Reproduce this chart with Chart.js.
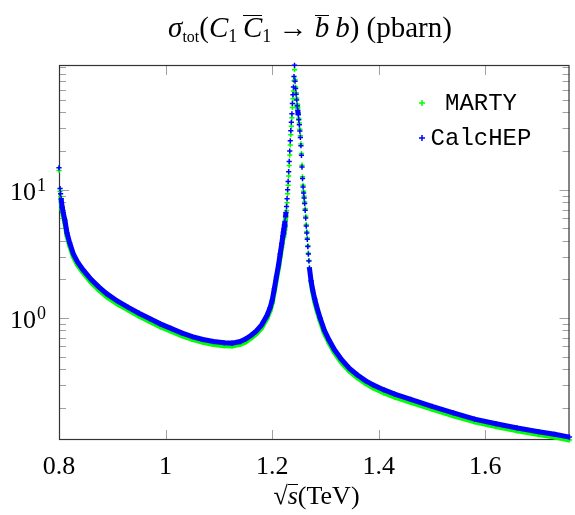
<!DOCTYPE html>
<html>
<head>
<meta charset="utf-8">
<script src="https://cdn.jsdelivr.net/npm/chart.js@4.4.1/dist/chart.umd.min.js"></script>
<style>
  body { margin: 0; background: #fff; }
  #wrap { position: relative; width: 575px; height: 515px; }
  #plot { position: absolute; left: 0; top: 0; }
  .math { position: absolute; font-family: "Liberation Serif", "DejaVu Serif", serif; font-size: 26px; color: #000; text-align: center; white-space: nowrap; line-height: 30px; }
  .math sub { font-size: 0.62em; vertical-align: -0.28em; line-height: 0; }
  .math sub.rm { font-size: 0.55em; vertical-align: -0.3em; }
  .bar { display: inline-block; border-top: 1.5px solid #000; line-height: 0.74em; padding-top: 1px; }
  #title { left: 40px; top: 12px; width: 540px; font-size: 29px; }
  #xlabel { left: 59px; top: 481px; width: 515px; }
</style>
</head>
<body>
<div id="wrap">
  <canvas id="plot" width="575" height="515"></canvas>
  <div id="title" class="math"><i>σ</i><sub class="rm">tot</sub>(<i>C</i><sub>1</sub>&thinsp;<span class="bar"><i>C</i></span><sub>1</sub> → <span class="bar"><i>b</i></span>&thinsp;<i>b</i>) (pbarn)</div>
  <div id="xlabel" class="math">√<span class="bar"><i>s</i></span>(TeV)</div>
</div>
<script>
// centre-of-mass energy sqrt(s) in TeV
var sqrtS = [0.800,0.802,0.803,0.804,0.806,0.808,0.811,0.815,0.820,0.827,
  0.835,0.845,0.860,0.875,0.890,0.910,0.930,0.950,0.970,0.990,
  1.010,1.030,1.050,1.070,1.090,1.110,1.125,1.140,1.150,1.160,
  1.170,1.180,1.190,1.196,1.200,1.204,1.208,1.212,1.215,1.218,
  1.220,
  1.221,1.222,1.223,1.224,1.225,1.226,1.227,1.228,1.229,1.230,
  1.231,1.232,1.233,1.234,1.235,1.236,1.237,1.238,1.239,1.240,
  1.241,1.242,1.243,1.244,1.245,1.246,1.247,1.248,1.249,1.250,
  1.251,1.252,1.253,1.254,1.255,1.256,1.257,1.258,1.259,1.260,
  1.261,1.262,1.263,1.264,1.265,1.266,1.267,1.268,1.269,1.270,
  1.273,1.276,1.280,1.285,1.290,1.298,1.307,1.317,1.330,1.345,
  1.360,1.375,1.390,1.410,1.430,1.460,1.500,1.540,1.580,1.620,
  1.660,1.700,1.730,1.758];

// sigma_tot in pbarn
var marty = [14.1,9.7,8.85,8.1,6.95,6.25,5.5,4.37,3.66,2.99,
  2.58,2.26,1.9,1.65,1.46,1.28,1.15,1.035,0.94,0.855,
  0.79,0.727,0.68,0.646,0.622,0.608,0.605,0.622,0.65,0.694,
  0.75,0.836,0.99,1.14,1.3,1.6,2.0,2.47,2.98,3.58,
  4.1,
  4.37,4.65,4.98,5.3,5.77,6.23,6.88,7.9,9.3,10.8,
  12.8,15.4,18.6,22.3,26.8,31.2,36.3,43.7,51,58.6,
  70.7,86,72,63,57,51.5,46.5,43,39.5,36,
  33,29.5,26.3,22.7,19.1,15.5,12.6,10.8,9.7,8.9,
  8.0,7.1,6.2,5.35,4.7,4.2,3.65,3.2,2.8,2.45,
  1.9,1.59,1.33,1.11,0.95,0.76,0.636,0.537,0.451,0.385,
  0.342,0.309,0.285,0.261,0.242,0.22,0.195,0.173,0.155,0.1425,
  0.132,0.1235,0.118,0.112];

var calchep = [14.8,10.2,9.3,8.5,7.3,6.6,5.8,4.6,3.85,3.15,
  2.72,2.38,2.0,1.74,1.54,1.35,1.21,1.09,0.99,0.90,
  0.83,0.765,0.715,0.68,0.655,0.64,0.637,0.655,0.685,0.73,
  0.79,0.88,1.04,1.2,1.37,1.68,2.1,2.6,3.15,3.8,
  4.35,
  4.65,4.95,5.3,5.65,6.15,6.65,7.4,8.5,10.0,11.6,
  13.8,16.6,20.0,24.0,28.8,33.5,39.0,47.0,55.0,63.0,
  76.0,93.0,70.0,61.5,55.5,50.0,45.0,41.5,38.3,35.0,
  32.0,28.6,25.5,22.0,18.5,15.0,12.2,10.5,9.4,8.6,
  7.8,6.9,6.0,5.2,4.6,4.1,3.6,3.15,2.78,2.45,
  1.95,1.66,1.40,1.17,1.0,0.80,0.67,0.565,0.475,0.405,
  0.36,0.325,0.30,0.275,0.255,0.232,0.205,0.182,0.163,0.150,
  0.139,0.130,0.124,0.118];

var seriesNames = ["MARTY", "CalcHEP"];
var seriesColors = ["#00ff00", "#0000ff"];

function points(ys) {
  return sqrtS.map(function (x, i) { return { x: x, y: ys[i] }; });
}

function isWhole(m) { return Math.abs(m - Math.round(m)) < 1e-6; }
function mantissa(v) { return v / Math.pow(10, Math.floor(Math.log10(v) + 1e-9)); }

// hide the joining line where the real curve is made of spread-out markers
function gapSegment(c) {
  var xs = c.chart.scales.x;
  var step = Math.abs(xs.getPixelForValue(0.801) - xs.getPixelForValue(0.8));
  var dx = Math.abs(c.p1.x - c.p0.x), dy = Math.abs(c.p1.y - c.p0.y);
  return dy / Math.max(1, dx / step) > 4.5 ? "transparent" : undefined;
}

function makeSet(i, ys) {
  return {
    label: seriesNames[i],
    data: points(ys),
    showLine: true,
    borderColor: seriesColors[i],
    backgroundColor: seriesColors[i],
    borderWidth: 5,
    pointStyle: "cross",
    pointRadius: 2.6,
    pointBorderWidth: 1.5,
    pointBorderColor: seriesColors[i],
    order: 1 - i,
    clip: 8,
    segment: { borderColor: gapSegment }
  };
}

var frameTicks = {
  id: "frameTicks",
  beforeDatasetsDraw: function (chart) {
    var ctx = chart.ctx, a = chart.chartArea, x = chart.scales.x, y = chart.scales.y;
    ctx.save();
    ctx.strokeStyle = "#a0a0a0";
    ctx.lineWidth = 1;
    ctx.beginPath();
    x.ticks.forEach(function (t) {
      var px = Math.round(x.getPixelForValue(t.value)) + 0.5;
      ctx.moveTo(px, a.bottom); ctx.lineTo(px, a.bottom - 10);
      ctx.moveTo(px, a.top); ctx.lineTo(px, a.top + 10);
    });
    y.ticks.forEach(function (t) {
      var py = Math.round(y.getPixelForValue(t.value)) + 0.5;
      var len = Math.abs(mantissa(t.value) - 1) < 1e-6 ? 10 : 7;
      ctx.moveTo(a.left, py); ctx.lineTo(a.left + len, py);
      ctx.moveTo(a.right, py); ctx.lineTo(a.right - len, py);
    });
    ctx.stroke();
    ctx.strokeStyle = "#333";
    ctx.lineWidth = 1.2;
    ctx.strokeRect(a.left + 0.5, a.top + 0.5, a.right - a.left - 1, a.bottom - a.top - 1);
    ctx.restore();
  },
  afterDraw: function (chart) {
    var ctx = chart.ctx, y = chart.scales.y, a = chart.chartArea;
    ctx.save();
    ctx.fillStyle = "#000";
    y.ticks.forEach(function (t) {
      if (Math.abs(mantissa(t.value) - 1) > 1e-6) return;
      var py = y.getPixelForValue(t.value);
      var ex = String(Math.round(Math.log10(t.value)));
      ctx.textAlign = "right";
      ctx.textBaseline = "alphabetic";
      ctx.font = "18px 'Liberation Serif'";
      var ew = ctx.measureText(ex).width;
      ctx.fillText(ex, a.left - 13, py + 1);
      ctx.font = "26px 'Liberation Serif'";
      ctx.fillText("10", a.left - 14 - ew, py + 10);
    });
    // legend
    var lx = 422, tx = 481, rows = [103, 138];
    ctx.font = "24px 'Liberation Mono'";
    ctx.textAlign = "center";
    ctx.textBaseline = "middle";
    chart.data.datasets.forEach(function (ds, i) {
      var ly = rows[i];
      ctx.strokeStyle = ds.borderColor;
      ctx.lineWidth = 1.5;
      ctx.beginPath();
      ctx.moveTo(lx - 3, ly); ctx.lineTo(lx + 3, ly);
      ctx.moveTo(lx, ly - 3); ctx.lineTo(lx, ly + 3);
      ctx.stroke();
      ctx.fillStyle = "#000";
      ctx.fillText(ds.label, tx, ly + 1);
    });
    ctx.restore();
  }
};

var chart = new Chart(document.getElementById("plot").getContext("2d"), {
  type: "scatter",
  data: { datasets: [makeSet(0, marty), makeSet(1, calchep)] },
  options: {
    responsive: false,
    animation: false,
    devicePixelRatio: 1,
    layout: { padding: { top: 65, right: 1, left: 0, bottom: 0 } },
    plugins: { legend: { display: false }, tooltip: { enabled: false } },
    scales: {
      x: {
        type: "linear",
        min: 0.8,
        max: 1.758,
        grid: { display: false },
        border: { display: false },
        afterBuildTicks: function (s) {
          s.ticks = s.ticks.filter(function (t) { return isWhole(t.value * 5); });
        },
        afterFit: function (s) { s.height = 75; },
        ticks: {
          stepSize: 0.2,
          includeBounds: false,
          autoSkip: false,
          maxRotation: 0,
          padding: 4,
          color: "#000",
          font: { family: "Liberation Serif", size: 26 },
          callback: function (v) { return String(Math.round(v * 10) / 10); }
        }
      },
      y: {
        type: "logarithmic",
        min: 0.112,
        max: 93.6,
        grid: { display: false },
        border: { display: false },
        afterBuildTicks: function (s) {
          s.ticks = s.ticks.filter(function (t) { return isWhole(mantissa(t.value)); });
        },
        afterFit: function (s) { s.width = 59; },
        ticks: { display: false, autoSkip: false }
      }
    }
  },
  plugins: [frameTicks]
});
</script>
</body>
</html>
